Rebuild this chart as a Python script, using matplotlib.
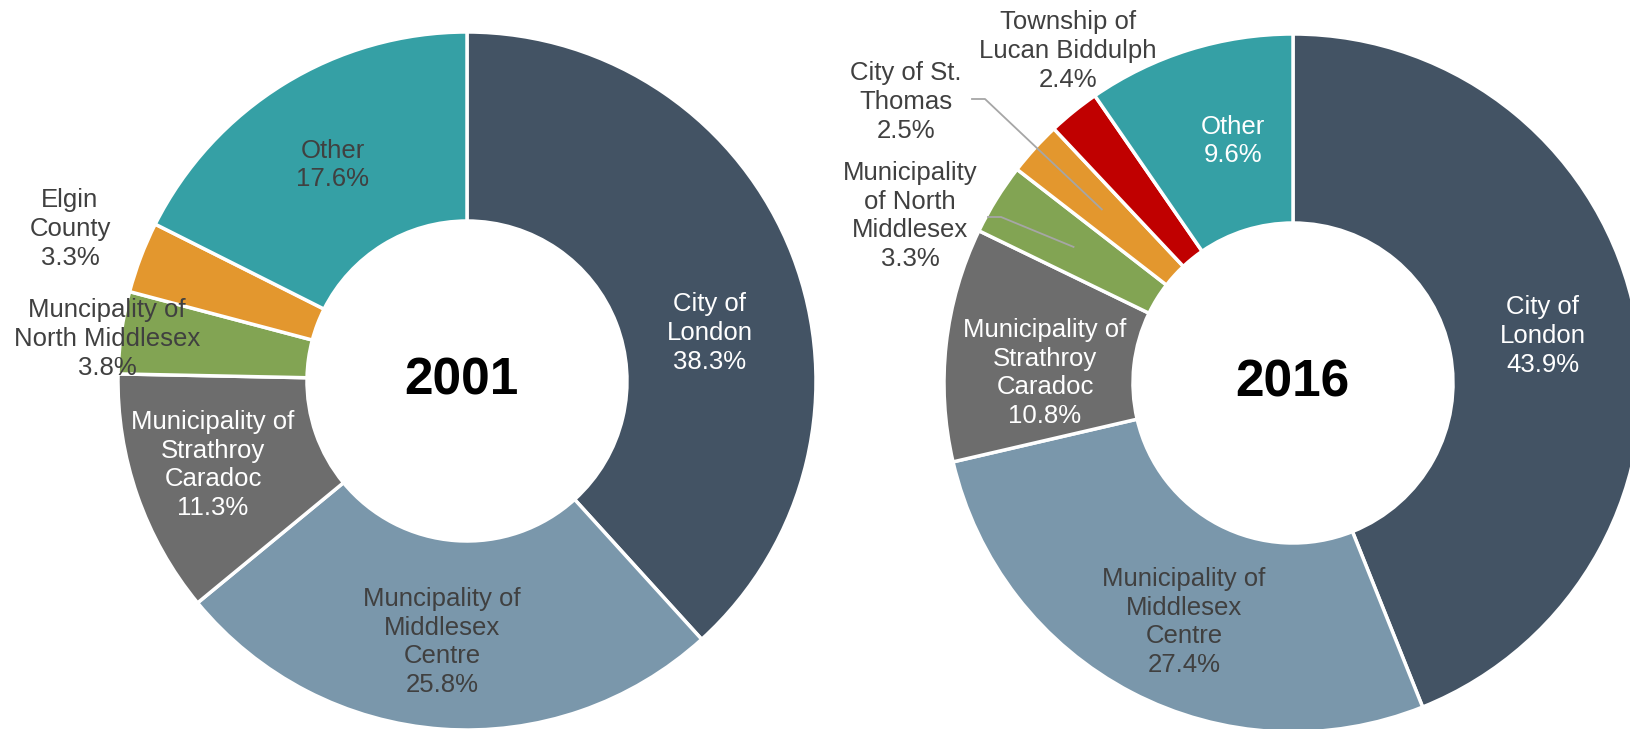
import numpy as np
import matplotlib.pyplot as plt

plt.rcParams['font.family'] = ['Liberation Sans', 'DejaVu Sans']

# data
names_2001 = ['City of\nLondon', 'Muncipality of\nMiddlesex\nCentre',
              'Municipality of\nStrathroy\nCaradoc', 'Muncipality of\nNorth Middlesex',
              'Elgin\nCounty', 'Other']
share_2001 = [38.3, 25.8, 11.3, 3.8, 3.3, 17.6]

names_2016 = ['City of\nLondon', 'Municipality of\nMiddlesex\nCentre',
              'Municipality of\nStrathroy\nCaradoc', 'Municipality\nof North\nMiddlesex',
              'City of St.\nThomas', 'Township of\nLucan Biddulph', 'Other']
share_2016 = [43.9, 27.4, 10.8, 3.3, 2.5, 2.4, 9.6]

NAVY = '#435364'
BLUEGREY = '#7a97ab'
GREY = '#6d6d6d'
GREEN = '#82a453'
ORANGE = '#e3972e'
RED = '#c00000'
TEAL = '#35a0a5'
DARK = '#404040'

colors_2001 = [NAVY, BLUEGREY, GREY, GREEN, ORANGE, TEAL]
colors_2016 = [NAVY, BLUEGREY, GREY, GREEN, ORANGE, RED, TEAL]

text_col_2001 = ['white', DARK, 'white', DARK, DARK, DARK]
text_col_2016 = ['white', DARK, 'white', DARK, DARK, DARK, 'white']

# label centres in pixel coords (x, y from top)
pos_2001 = [(710, 333), (442, 642), (213, 465), (107, 339), (70, 229), (333, 165)]
pos_2016 = [(1543, 336), (1184, 622), (1045, 373), (910, 216), (906, 102), (1068, 51), (1233, 141)]

W, H = 1631, 729
R_OUT, R_IN = 349, 160

fig = plt.figure(figsize=(W / 100, H / 100), dpi=100)
ax = fig.add_axes([0, 0, 1, 1])


def donut(values, names, colors, tcols, positions, center, year, year_dx):
    cx, cy = center[0], H - center[1]
    wedges, _ = ax.pie(values, center=(cx, cy), radius=R_OUT, startangle=90,
                       counterclock=False, colors=colors,
                       wedgeprops=dict(width=R_OUT - R_IN, edgecolor='white', linewidth=2.5))
    for name, v, tc, (px, py) in zip(names, values, tcols, positions):
        ax.text(px, H - py, f'{name}\n{v}%', ha='center', va='center',
                fontsize=18.5, color=tc, linespacing=1.25)
    ax.text(cx + year_dx, cy, year, ha='center', va='center', fontsize=37,
            fontweight='bold', color='black')
    return wedges, (cx, cy)


donut(share_2001, names_2001, colors_2001, text_col_2001, pos_2001, (467, 381), '2001', -6)
wedges16, c16 = donut(share_2016, names_2016, colors_2016, text_col_2016, pos_2016,
                      (1293, 383), '2016', -1)

# leader lines for the small 2016 slices
leaders = {4: (972, 99), 3: (988, 217)}
for idx, (sx, sy) in leaders.items():
    w = wedges16[idx]
    mid = np.deg2rad((w.theta1 + w.theta2) / 2)
    ex = c16[0] + 0.74 * R_OUT * np.cos(mid)
    ey = c16[1] + 0.74 * R_OUT * np.sin(mid)
    ax.plot([sx, sx + 13, ex], [H - sy, H - sy, ey], color='#a6a6a6', lw=1.3, zorder=5)

ax.set_xlim(0, W)
ax.set_ylim(0, H)
ax.set_aspect('equal')
ax.axis('off')

fig.savefig('out.png', dpi=100)
